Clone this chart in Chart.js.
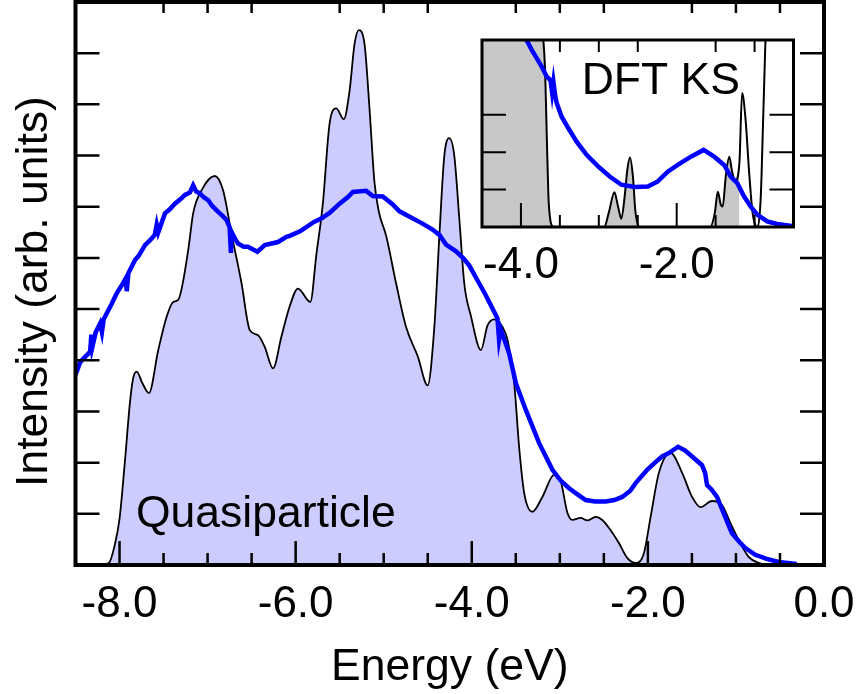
<!DOCTYPE html>
<html><head><meta charset="utf-8">
<script src="https://cdn.jsdelivr.net/npm/chart.js@4.4.1/dist/chart.umd.min.js"></script>
<style>
html,body{margin:0;padding:0;background:#fff;}
#wrap{position:relative;width:859px;height:694px;overflow:hidden;}
#main{position:absolute;left:0;top:0;}
#inset{position:absolute;left:430px;top:0;}
</style></head><body>
<div id="wrap"><canvas id="main" width="859" height="694"></canvas><canvas id="inset" width="429" height="300"></canvas></div>
<script>
// ---------- main panel: quasiparticle spectrum (filled) ----------
const qpEnergy = [-8.5,-8.2,-8.12,-8.06,-8.0,-7.94,-7.88,-7.845,-7.805,-7.74,-7.666,-7.56,-7.465,-7.39,-7.334,-7.22,-7.164,-7.069,-6.918,-6.824,-6.729,-6.615,-6.521,-6.427,-6.351,-6.257,-6.162,-6.068,-5.974,-5.833,-5.765,-5.691,-5.615,-5.539,-5.453,-5.388,-5.331,-5.283,-5.218,-5.161,-5.105,-5.056,-4.972,-4.859,-4.746,-4.614,-4.501,-4.425,-4.368,-4.312,-4.255,-4.198,-4.142,-4.085,-4.009,-3.896,-3.821,-3.745,-3.651,-3.594,-3.518,-3.462,-3.405,-3.311,-3.198,-3.065,-2.989,-2.914,-2.858,-2.763,-2.688,-2.593,-2.518,-2.423,-2.329,-2.235,-2.139,-2.045,-1.969,-1.875,-1.743,-1.611,-1.498,-1.403,-1.271,-1.158,-1.063,-0.969,-0.856,-0.742,-0.629,0];
const qpIntensity = [0,0,0.04,0.35,0.9,2.0,3.2,3.65,3.78,3.55,3.36,4.2,4.85,5.14,5.18,6.15,6.87,7.32,7.6,7.32,6.48,5.51,4.59,4.49,4.26,3.84,4.46,5.05,5.4,5.14,6.06,7.06,8.62,8.92,8.71,9.26,10.18,10.45,10.18,8.91,7.48,6.91,6.43,5.5,4.65,4.08,3.51,4.65,6.43,7.99,8.34,7.99,6.78,5.5,4.86,4.2,4.68,4.8,4.65,4.4,3.55,2.3,1.41,1.04,1.33,1.76,1.63,1.02,0.88,0.92,0.87,0.94,0.88,0.68,0.43,0.14,0.04,0.23,0.94,1.8,2.19,1.8,1.33,1.13,1.25,1.17,0.82,0.49,0.16,0.04,0,0];

// ---------- main panel: experimental spectrum (blue) ----------
const expEnergy = [-8.5,-8.485,-8.45,-8.428,-8.36,-8.334,-8.32,-8.31,-8.27,-8.221,-8.2,-8.18,-8.145,-8.09,-8.032,-7.98,-7.93,-7.918,-7.9,-7.824,-7.78,-7.711,-7.65,-7.6,-7.578,-7.56,-7.484,-7.43,-7.371,-7.3,-7.258,-7.2,-7.164,-7.13,-7.088,-7.04,-6.994,-6.95,-6.88,-6.83,-6.785,-6.75,-6.735,-6.725,-6.68,-6.654,-6.59,-6.541,-6.434,-6.351,-6.2,-6.105,-6.068,-5.95,-5.804,-5.7,-5.615,-5.501,-5.4,-5.351,-5.199,-5.124,-5.011,-4.9,-4.821,-4.7,-4.558,-4.45,-4.368,-4.292,-4.179,-4.1,-4.028,-3.915,-3.85,-3.802,-3.726,-3.708,-3.69,-3.67,-3.575,-3.499,-3.386,-3.235,-3.084,-2.99,-2.895,-2.8,-2.706,-2.6,-2.479,-2.38,-2.291,-2.2,-2.139,-2.008,-1.92,-1.838,-1.75,-1.657,-1.58,-1.498,-1.385,-1.35,-1.328,-1.28,-1.215,-1.139,-1.045,-0.96,-0.893,-0.78,-0.65,-0.516,-0.31];
const expIntensity = [3.72,3.78,3.95,4.0,4.12,4.17,4.5,4.25,4.55,4.72,4.55,4.8,4.92,5.1,5.31,5.45,5.6,5.35,5.7,5.96,6.05,6.25,6.35,6.45,6.65,6.5,6.87,6.95,7.06,7.16,7.23,7.28,7.42,7.3,7.26,7.18,7.13,7.02,6.9,6.82,6.74,6.6,6.1,6.5,6.35,6.28,6.22,6.22,6.12,6.25,6.31,6.41,6.43,6.52,6.69,6.78,6.88,7.06,7.2,7.29,7.31,7.21,7.2,7.05,6.91,6.8,6.67,6.56,6.45,6.26,6.13,6.0,5.85,5.5,5.3,5.14,4.88,4.82,4.4,4.6,4.13,3.55,3.03,2.38,1.86,1.65,1.5,1.38,1.27,1.24,1.24,1.27,1.33,1.45,1.6,1.86,2.0,2.12,2.2,2.31,2.24,2.12,1.95,1.8,1.56,1.48,1.33,1.01,0.62,0.45,0.33,0.2,0.12,0.06,0.02];

// ---------- inset: DFT Kohn-Sham spectrum ----------
const ksEnergy = [-4.5,-3.76,-3.72,-3.69,-3.668,-3.647,-3.626,-3.596,-3.56,-2.93,-2.87,-2.8,-2.753,-2.711,-2.668,-2.634,-2.6,-2.562,-2.532,-2.498,-2.47,-1.57,-1.511,-1.472,-1.434,-1.409,-1.37,-1.325,-1.29,-1.25,-1.195,-1.16,-1.115,-1.072,-1.03,-0.99,-0.96,-0.92,-0.89,-0.86,-0.83,-0.5];
const ksIntensity = [6,6,5.2,4.2,2.42,0.82,0.24,0.02,0,0,0.4,0.93,0.55,0.22,0.82,1.53,1.86,1.35,0.46,0.06,0,0,0.37,0.94,0.6,0.55,1.35,1.88,1.5,1.22,1.7,3.58,2.86,1.53,0.46,0.05,0,0.82,2.86,5,7,8];
const ksFillEdge = -1.195;   // shaded (occupied) part ends here

// ---------- inset: experimental spectrum (blue) ----------
const insetExpEnergy = [-3.96,-3.923,-3.86,-3.796,-3.732,-3.668,-3.62,-3.6,-3.583,-3.56,-3.54,-3.477,-3.391,-3.285,-3.157,-3.009,-2.86,-2.711,-2.54,-2.37,-2.243,-2.115,-1.987,-1.817,-1.655,-1.519,-1.391,-1.306,-1.221,-1.136,-1.051,-0.966,-0.838,-0.711,-0.5];
const insetExpIntensity = [5.3,4.98,4.73,4.51,4.28,4.02,3.92,3.6,3.88,3.5,3.31,2.95,2.64,2.28,1.93,1.62,1.35,1.13,1.07,1.08,1.22,1.48,1.66,1.88,2.06,1.88,1.66,1.35,1.17,0.82,0.55,0.33,0.15,0.08,0.02];

// ---------- ticks / labels ----------
const xLabelTicks = [-8,-6,-4,-2,0];
const xMinorTicks = [-8,-7.5,-7,-6.5,-6,-5.5,-5,-4.5,-4,-3.5,-3,-2.5,-2,-1.5,-1,-0.5];
const yTicks = [1,2,3,4,5,6,7,8,9,10];
const insetXLabelTicks = [-4,-2];
const insetXMinorTicks = [-4,-3.5,-3,-2.5,-2,-1.5,-1];
const insetYTicks = [1,2,3];
const xTitle = 'Energy (eV)';
const yTitle = 'Intensity (arb. units)';
const qpLabel = {text:'Quasiparticle', x:-7.813, y:0.75};
const ksLabel = {text:'DFT KS', x:-3.22, y:3.55};

const FONT = "'Liberation Sans', Arial, Helvetica, sans-serif";
Chart.defaults.font.family = FONT;
Chart.defaults.color = '#000';

const toPts = (xs, ys) => xs.map((x, i) => ({x: x, y: ys[i]}));
const noSidePad = s => { s.paddingLeft = 0; s.paddingRight = 0; };

const mainDecor = {
  id: 'mainDecor',
  afterDatasetsDraw(chart) {
    const ctx = chart.ctx, a = chart.chartArea, x = chart.scales.x, y = chart.scales.y;
    ctx.save();
    ctx.strokeStyle = '#000'; ctx.lineWidth = 2.5; ctx.lineCap = 'butt';
    ctx.beginPath();
    xMinorTicks.forEach(v => {
      const px = x.getPixelForValue(v);
      const major = xLabelTicks.includes(v);
      ctx.moveTo(px, a.bottom); ctx.lineTo(px, a.bottom - (major ? 24 : 12));
      if (!major) { ctx.moveTo(px, a.top); ctx.lineTo(px, a.top + 11); }
    });
    yTicks.forEach(v => {
      const py = y.getPixelForValue(v);
      ctx.moveTo(a.left, py); ctx.lineTo(a.left + 24, py);
      ctx.moveTo(a.right, py); ctx.lineTo(a.right - 24, py);
    });
    ctx.stroke();
    ctx.lineWidth = 4;
    ctx.strokeRect(a.left, a.top, a.right - a.left, a.bottom - a.top);
    ctx.fillStyle = '#000';
    ctx.font = '44.5px ' + FONT;
    ctx.textAlign = 'left'; ctx.textBaseline = 'alphabetic';
    ctx.fillText(qpLabel.text, x.getPixelForValue(qpLabel.x), y.getPixelForValue(qpLabel.y));
    // y-axis title, rotated
    ctx.save();
    ctx.translate(a.left - 29, (a.top + a.bottom) / 2 + 8);
    ctx.rotate(-Math.PI / 2);
    ctx.textAlign = 'center';
    ctx.fillText(yTitle, 0, 0);
    ctx.restore();
    ctx.restore();
  }
};

new Chart(document.getElementById('main'), {
  type: 'line',
  data: {datasets: [
    {label: 'Quasiparticle', data: toPts(qpEnergy, qpIntensity), fill: 'origin', backgroundColor: '#ccccff',
     borderColor: '#000', borderWidth: 1.8, pointRadius: 0, cubicInterpolationMode: 'monotone', order: 1},
    {label: 'Experiment', data: toPts(expEnergy, expIntensity), fill: false, borderColor: '#0000ff',
     borderWidth: 4.5, pointRadius: 0, tension: 0, borderJoinStyle: 'miter', order: 0}
  ]},
  options: {
    responsive: false, animation: false, events: [],
    layout: {padding: {left: 0, right: 35, top: 2, bottom: 0}},
    plugins: {legend: {display: false}, tooltip: {enabled: false}},
    scales: {
      x: {type: 'linear', min: -8.5, max: 0,
          grid: {display: false, drawTicks: false}, border: {display: false},
          afterBuildTicks: s => { s.ticks = xLabelTicks.map(v => ({value: v})); },
          afterFit: s => { s.height = 129; noSidePad(s); },
          ticks: {font: {size: 44}, color: '#000', padding: 13.5, maxRotation: 0, minRotation: 0, autoSkip: false,
                  callback: v => Number(v).toFixed(1)},
          title: {display: true, text: xTitle, font: {size: 44.5}, color: '#000', padding: {top: 0, bottom: 0}}},
      y: {type: 'linear', min: 0, max: 11,
          grid: {display: false, drawTicks: false}, border: {display: false},
          ticks: {display: false},
          afterFit: s => { s.width = 75.5; },
          title: {display: false}}
    }
  },
  plugins: [mainDecor]
});

const insetDecor = {
  id: 'insetDecor',
  beforeDraw(chart) {
    const ctx = chart.ctx, a = chart.chartArea;
    ctx.save(); ctx.fillStyle = '#fff';
    ctx.fillRect(a.left, a.top, a.right - a.left, a.bottom - a.top);
    ctx.restore();
  },
  afterDatasetsDraw(chart) {
    const ctx = chart.ctx, a = chart.chartArea, x = chart.scales.x, y = chart.scales.y;
    ctx.save();
    ctx.strokeStyle = '#000'; ctx.lineWidth = 2; ctx.lineCap = 'butt';
    ctx.beginPath();
    insetXMinorTicks.forEach(v => {
      const px = x.getPixelForValue(v);
      const major = insetXLabelTicks.includes(v);
      ctx.moveTo(px, a.bottom); ctx.lineTo(px, a.bottom - (major ? 24 : 12));
      if (!major) { ctx.moveTo(px, a.top); ctx.lineTo(px, a.top + 12); }
    });
    insetYTicks.forEach(v => {
      const py = y.getPixelForValue(v);
      ctx.moveTo(a.left, py); ctx.lineTo(a.left + 24, py);
      ctx.moveTo(a.right, py); ctx.lineTo(a.right - 24, py);
    });
    ctx.stroke();
    ctx.lineWidth = 3;
    ctx.strokeRect(a.left, a.top, a.right - a.left, a.bottom - a.top);
    ctx.fillStyle = '#000';
    ctx.font = '44.5px ' + FONT;
    ctx.textAlign = 'left'; ctx.textBaseline = 'alphabetic';
    ctx.fillText(ksLabel.text, x.getPixelForValue(ksLabel.x), y.getPixelForValue(ksLabel.y));
    ctx.restore();
  }
};

const ksPts = toPts(ksEnergy, ksIntensity);
const ksFillPts = ksPts.filter(p => p.x <= ksFillEdge);

new Chart(document.getElementById('inset'), {
  type: 'line',
  data: {datasets: [
    {label: 'KS occupied', data: ksFillPts, fill: 'origin', backgroundColor: '#c8c8c8', borderWidth: 0,
     borderColor: 'rgba(0,0,0,0)', pointRadius: 0, cubicInterpolationMode: 'monotone', order: 2},
    {label: 'DFT KS', data: ksPts, fill: false, borderColor: '#000', borderWidth: 2, pointRadius: 0,
     cubicInterpolationMode: 'monotone', order: 1},
    {label: 'Experiment', data: toPts(insetExpEnergy, insetExpIntensity), fill: false, borderColor: '#0000ff',
     borderWidth: 4.5, pointRadius: 0, tension: 0, borderJoinStyle: 'miter', order: 0}
  ]},
  options: {
    responsive: false, animation: false, events: [],
    layout: {padding: {left: 52, right: 65.5, top: 40, bottom: 0}},
    plugins: {legend: {display: false}, tooltip: {enabled: false}},
    scales: {
      x: {type: 'linear', min: -4.5, max: -0.5,
          grid: {display: false, drawTicks: false}, border: {display: false},
          afterBuildTicks: s => { s.ticks = insetXLabelTicks.map(v => ({value: v})); },
          afterFit: s => { s.height = 73; noSidePad(s); },
          ticks: {font: {size: 44}, color: '#000', padding: 12, maxRotation: 0, minRotation: 0, autoSkip: false,
                  callback: v => Number(v).toFixed(1)}},
      y: {type: 'linear', min: 0, max: 5, display: false}
    }
  },
  plugins: [insetDecor]
});
</script>
</body></html>
